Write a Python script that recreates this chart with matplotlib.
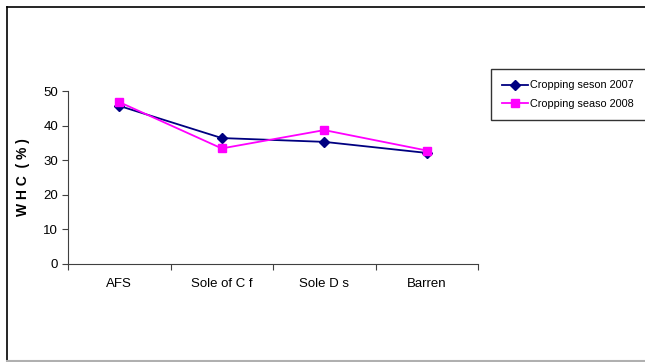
import numpy as np
import matplotlib.pyplot as plt
from matplotlib.lines import Line2D

plt.rcParams['font.family'] = ['Liberation Sans Narrow', 'Liberation Sans', 'DejaVu Sans']

categories = ['AFS', 'Sole of C f', 'Sole D s', 'Barren']
whc_2007 = [45.7, 36.4, 35.3, 32.1]
whc_2008 = [46.8, 33.4, 38.7, 32.8]
labels = ['Cropping seson 2007', 'Cropping seaso 2008']

fig = plt.figure(figsize=(6.45, 3.62), dpi=100)
W, H = 645, 362

# outer chart frame (black left/top, grey bottom)
fig.lines.append(Line2D([7 / W, 7 / W], [1 / H, 1 - 7 / H], transform=fig.transFigure,
                        color='black', linewidth=1.2))
fig.lines.append(Line2D([7 / W, 1], [1 - 7 / H, 1 - 7 / H], transform=fig.transFigure,
                        color='black', linewidth=1.2))
fig.lines.append(Line2D([7 / W, 1], [1.5 / H, 1.5 / H], transform=fig.transFigure,
                        color='#b0b0b0', linewidth=1.5))

ax = fig.add_axes([68 / W, (H - 264) / H, (478 - 68) / W, (264 - 91) / H])
x = np.arange(len(categories)) + 0.5
ax.plot(x, whc_2007, color='#000080', marker='D', markersize=5.5, linewidth=1.3,
        label=labels[0], clip_on=False)
ax.plot(x, whc_2008, color='#FF00FF', marker='s', markersize=6, linewidth=1.3,
        label=labels[1], clip_on=False)

ax.set_xlim(0, len(categories))
ax.set_ylim(0, 50)
ax.set_yticks(range(0, 51, 10))
ax.set_xticks(range(len(categories) + 1))
ax.set_xticklabels([])
ax.set_xticks(x, minor=True)
ax.set_xticklabels(categories, minor=True)
ax.tick_params(axis='x', which='minor', length=0, pad=10, labelsize=9.5)
ax.tick_params(axis='x', which='major', length=4, direction='out', color='#404040')
ax.tick_params(axis='y', length=4, direction='out', labelsize=9.5, pad=3, color='#404040')
for s in ['top', 'right']:
    ax.spines[s].set_visible(False)
for s in ['left', 'bottom']:
    ax.spines[s].set_color('#404040')
ax.set_ylabel('W H C  ( % )', fontsize=10, fontweight='bold', labelpad=10)

leg = fig.legend(loc='upper left', bbox_to_anchor=(491 / W, 1 - 69 / H, 162 / W, 0),
                 mode='expand', fontsize=7.8, frameon=True, fancybox=False,
                 edgecolor='black', borderpad=1.05, labelspacing=0.8,
                 handlelength=2.4, handletextpad=0.15, borderaxespad=0)
leg.get_frame().set_linewidth(1.0)

fig.savefig('out.png', dpi=100)
